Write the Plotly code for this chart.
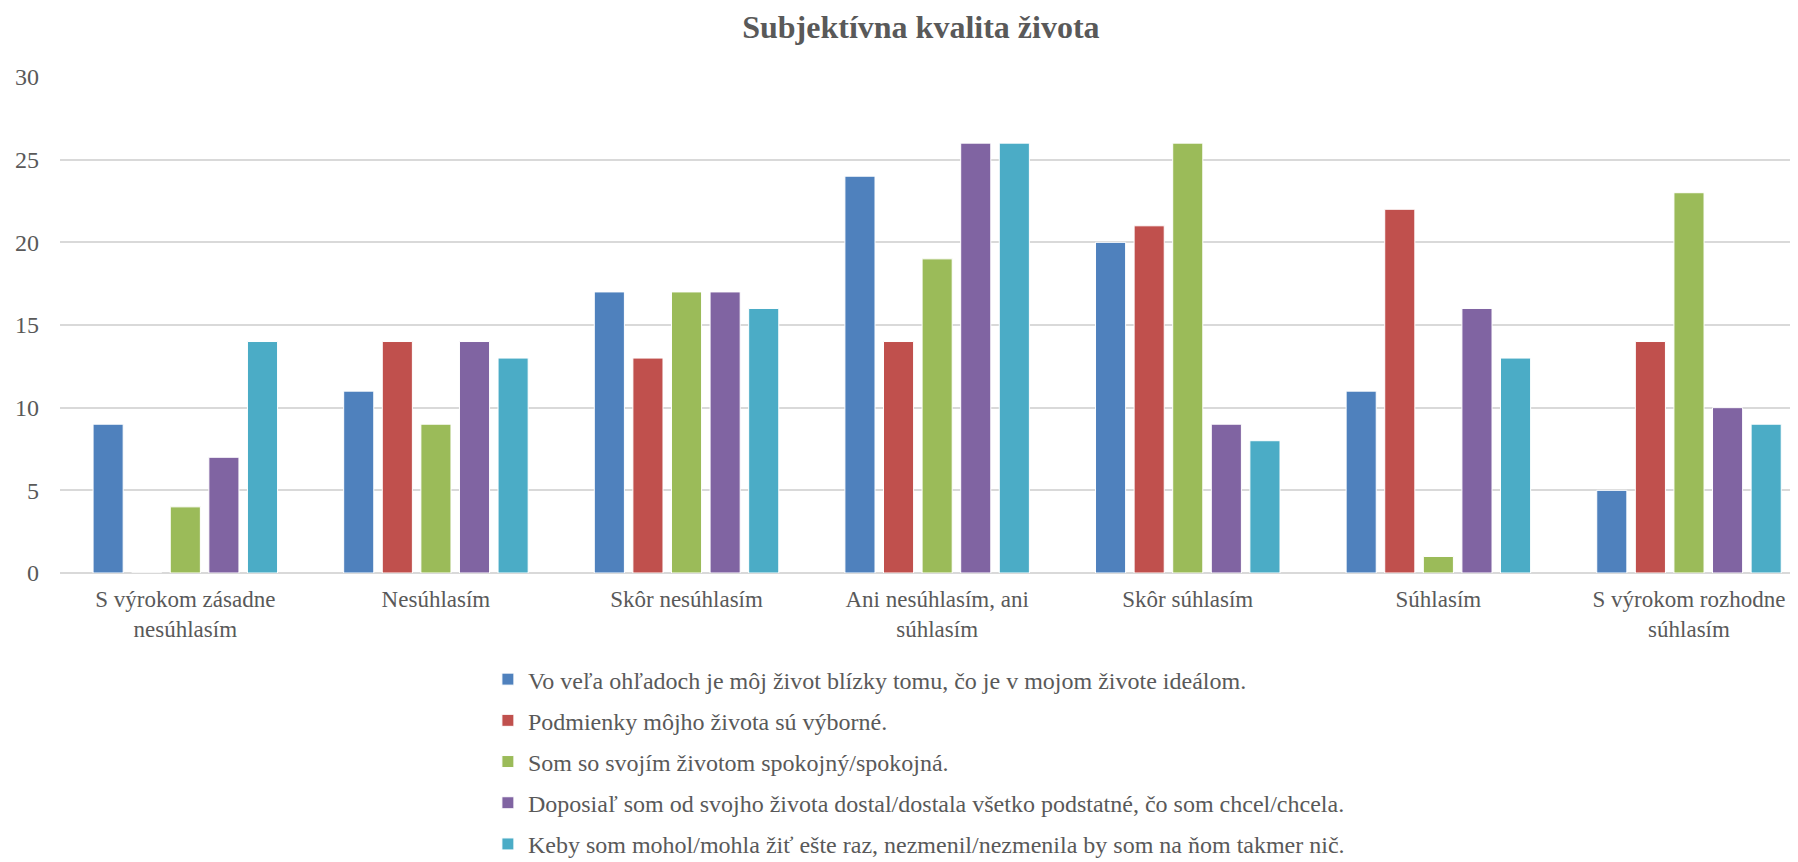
import plotly.graph_objects as go

# categories (answer scale) and the five statements
categories = [
    "S výrokom zásadne<br>nesúhlasím",
    "Nesúhlasím",
    "Skôr nesúhlasím",
    "Ani nesúhlasím, ani<br>súhlasím",
    "Skôr súhlasím",
    "Súhlasím",
    "S výrokom rozhodne<br>súhlasím",
]

statements = [
    "Vo veľa ohľadoch je môj život blízky tomu, čo je v mojom živote ideálom.",
    "Podmienky môjho života sú výborné.",
    "Som so svojím životom spokojný/spokojná.",
    "Doposiaľ som od svojho života dostal/dostala všetko podstatné, čo som chcel/chcela.",
    "Keby som mohol/mohla žiť ešte raz, nezmenil/nezmenila by som na ňom takmer nič.",
]

ideal_values = [9, 11, 17, 24, 20, 11, 5]
conditions_values = [0, 14, 13, 14, 21, 22, 14]
satisfied_values = [4, 9, 17, 19, 26, 1, 23]
got_values = [7, 14, 17, 26, 9, 16, 10]
change_values = [14, 13, 16, 26, 8, 13, 9]

series = [ideal_values, conditions_values, satisfied_values, got_values, change_values]
colors = ["#4F81BD", "#C0504D", "#9BBB59", "#8064A2", "#4BACC6"]

font_family = "Liberation Serif, Times New Roman, serif"
text_color = "#595959"

fig = go.Figure()
for i, (name, vals) in enumerate(zip(statements, series)):
    fig.add_trace(go.Bar(
        x=categories,
        y=vals,
        name=name,
        legendgroup=f"g{i}",
        marker=dict(color=colors[i], line=dict(color="white", width=1)),
    ))

# the page body keeps its default 8px margin, so the figure is a bit smaller
fig.update_layout(
    width=1790,
    height=854,
    paper_bgcolor="white",
    plot_bgcolor="white",
    margin=dict(l=52, r=0, t=69, b=289),
    barmode="group",
    bargap=0.23,
    bargroupgap=0.22,
    font=dict(family=font_family, size=23, color=text_color),
    title=dict(
        text="<b>Subjektívna kvalita života</b>",
        x=0.51,
        xref="container",
        xanchor="center",
        y=0.978,
        yref="container",
        yanchor="middle",
        font=dict(family=font_family, size=32, color=text_color),
    ),
    xaxis=dict(
        range=[-0.5, 6.435],
        showgrid=False,
        showline=False,
        ticks="",
        automargin=False,
        ticklabelstandoff=10,
        tickfont=dict(size=23, color=text_color),
    ),
    yaxis=dict(
        range=[0, 30],
        dtick=5,
        showgrid=True,
        gridcolor="#D9D9D9",
        gridwidth=1.5,
        zeroline=True,
        zerolinecolor="#D9D9D9",
        zerolinewidth=1.5,
        ticks="",
        automargin=False,
        ticklabelstandoff=20,
        tickfont=dict(size=24, color=text_color),
    ),
    legend=dict(
        orientation="v",
        x=0.2462,
        xanchor="left",
        y=0.240,
        yref="container",
        yanchor="top",
        tracegroupgap=7,
        font=dict(size=24, color=text_color),
        itemclick=False,
    ),
)

fig.write_html("out.html")
